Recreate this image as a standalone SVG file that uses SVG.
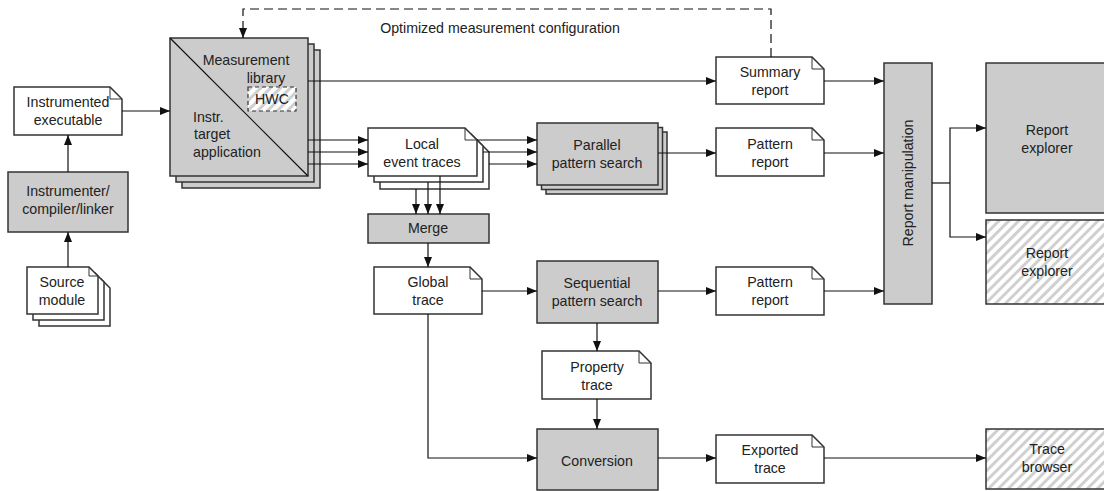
<svg xmlns="http://www.w3.org/2000/svg" width="1104" height="491" viewBox="0 0 1104 491">
<defs>
<pattern id="hatch" patternUnits="userSpaceOnUse" width="7" height="7" patternTransform="rotate(45)">
<rect width="7" height="7" fill="#ffffff"/>
<rect x="0" y="0" width="3" height="7" fill="#d0d0d0"/>
</pattern>
<marker id="arr" viewBox="0 0 10 8" refX="10" refY="4" markerWidth="10" markerHeight="8" markerUnits="userSpaceOnUse" orient="auto">
<path d="M0,0 L10,4 L0,8 Z" fill="#111"/>
</marker>
<style>
.box{fill:#cccccc;stroke:#333;stroke-width:1.5}
.doc{fill:#ffffff;stroke:#333;stroke-width:1.5}
.fold{fill:none;stroke:#333;stroke-width:1}
.hatch{fill:url(#hatch);stroke:#333;stroke-width:1.5}
.ln{fill:none;stroke:#111;stroke-width:1.2}
.arw{fill:none;stroke:#111;stroke-width:1.2;marker-end:url(#arr)}
text{font-family:"Liberation Sans",Arial,sans-serif;font-size:14.2px;fill:#222;text-anchor:middle}
</style>
</defs>
<rect width="1104" height="491" fill="#ffffff"/>

<g id="instrumented-executable">
<path class="doc" d="M14 87 H110 L122 99 V135 H14 Z"/>
<path class="fold" d="M110 87 V99 H122"/>
<text x="68" y="107">Instrumented</text>
<text x="68" y="125">executable</text>
</g>

<g id="instrumenter">
<rect class="box" x="8" y="172" width="120" height="60"/>
<text x="68" y="196">Instrumenter/</text>
<text x="68" y="214">compiler/linker</text>
</g>

<g id="source-module">
<path class="doc" d="M39 279 H101 L110 288 V326 H39 Z"/>
<path class="doc" d="M33 273 H95 L104 282 V320 H33 Z"/>
<path class="doc" d="M27 267 H89 L98 276 V314 H27 Z"/>
<path class="fold" d="M89 267 V276 H98"/>
<text x="62" y="287">Source</text>
<text x="62" y="305">module</text>
</g>

<g id="measurement">
<rect class="box" x="182" y="50" width="138" height="138"/>
<rect class="box" x="176" y="44" width="138" height="138"/>
<rect class="box" x="170" y="38" width="138" height="138"/>
<path class="ln" d="M170 38 L308 176"/>
<text x="246" y="65">Measurement</text>
<text x="266" y="83">library</text>
<rect x="248" y="87" width="48" height="24" fill="url(#hatch)" stroke="#333" stroke-width="1.2" stroke-dasharray="4 3"/>
<text x="272" y="104">HWC</text>
<text x="193" y="122" style="text-anchor:start">Instr.</text>
<text x="194" y="139" style="text-anchor:start">target</text>
<text x="193" y="157" style="text-anchor:start">application</text>
</g>

<g id="summary-report">
<path class="doc" d="M716 57 H812 L824 69 V104 H716 Z"/>
<path class="fold" d="M812 57 V69 H824"/>
<text x="770" y="77">Summary</text>
<text x="770" y="95">report</text>
</g>

<g id="local-event-traces">
<path class="doc" d="M380 140 H477 L489 152 V189 H380 Z"/>
<path class="doc" d="M374 134 H471 L483 146 V182 H374 Z"/>
<path class="doc" d="M368 128 H465 L477 140 V176 H368 Z"/>
<path class="fold" d="M465 128 V140 H477"/>
<text x="422" y="149">Local</text>
<text x="422" y="167">event traces</text>
</g>

<g id="parallel-pattern-search">
<rect class="box" x="546" y="132" width="121" height="62"/>
<rect class="box" x="541.5" y="127.5" width="121" height="62"/>
<rect class="box" x="537" y="123" width="121" height="62"/>
<text x="597" y="150">Parallel</text>
<text x="597" y="168">pattern search</text>
</g>

<g id="pattern-report-1">
<path class="doc" d="M716 128 H812 L824 140 V176 H716 Z"/>
<path class="fold" d="M812 128 V140 H824"/>
<text x="770" y="149">Pattern</text>
<text x="770" y="167">report</text>
</g>

<g id="merge">
<rect class="box" x="368" y="214" width="121" height="29"/>
<text x="428" y="233">Merge</text>
</g>

<g id="global-trace">
<path class="doc" d="M374 267 H470 L482 279 V314 H374 Z"/>
<path class="fold" d="M470 267 V279 H482"/>
<text x="428" y="287">Global</text>
<text x="428" y="305">trace</text>
</g>

<g id="sequential-pattern-search">
<rect class="box" x="537" y="261" width="121" height="62"/>
<text x="597" y="288">Sequential</text>
<text x="597" y="306">pattern search</text>
</g>

<g id="pattern-report-2">
<path class="doc" d="M716 267 H812 L824 279 V315 H716 Z"/>
<path class="fold" d="M812 267 V279 H824"/>
<text x="770" y="287">Pattern</text>
<text x="770" y="305">report</text>
</g>

<g id="property-trace">
<path class="doc" d="M542 351 H639 L651 363 V399 H542 Z"/>
<path class="fold" d="M639 351 V363 H651"/>
<text x="597" y="372">Property</text>
<text x="597" y="390">trace</text>
</g>

<g id="conversion">
<rect class="box" x="537" y="429" width="121" height="61"/>
<text x="597" y="466">Conversion</text>
</g>

<g id="exported-trace">
<path class="doc" d="M716 435 H812 L824 447 V483 H716 Z"/>
<path class="fold" d="M812 435 V447 H824"/>
<text x="770" y="455">Exported</text>
<text x="770" y="473">trace</text>
</g>

<g id="report-manipulation">
<rect class="box" x="884" y="63" width="48" height="241"/>
<text x="0" y="0" transform="translate(913 183) rotate(-90)">Report manipulation</text>
</g>

<g id="report-explorer-1">
<rect class="box" x="986" y="63" width="122" height="150"/>
<text x="1047" y="135">Report</text>
<text x="1047" y="153">explorer</text>
</g>

<g id="report-explorer-2">
<rect class="hatch" x="986" y="220" width="122" height="84"/>
<text x="1047" y="258">Report</text>
<text x="1047" y="276">explorer</text>
</g>

<g id="trace-browser">
<rect class="hatch" x="986" y="429" width="122" height="60"/>
<text x="1047" y="454">Trace</text>
<text x="1047" y="472">browser</text>
</g>

<g id="connectors">
<path class="arw" d="M771 57 V9 H243 V38" stroke-dasharray="9 5"/>
<text x="500" y="33">Optimized measurement configuration</text>
<path class="arw" d="M68 267 V232"/>
<path class="arw" d="M68 172 V135"/>
<path class="arw" d="M122 111 H170"/>
<path class="arw" d="M308 81 H716"/>
<path class="arw" d="M824 81 H884"/>
<path class="arw" d="M308 140 H368"/>
<path class="arw" d="M308 152 H368"/>
<path class="arw" d="M308 164 H368"/>
<path class="arw" d="M477 140 H537"/>
<path class="arw" d="M483 152 H537"/>
<path class="arw" d="M489 164 H537"/>
<path class="arw" d="M658 153 H716"/>
<path class="arw" d="M824 153 H884"/>
<path class="arw" d="M416 189 V214"/>
<path class="arw" d="M428 182 V214"/>
<path class="arw" d="M440 176 V214"/>
<path class="arw" d="M428 243 V267"/>
<path class="arw" d="M482 291 H537"/>
<path class="arw" d="M658 291 H716"/>
<path class="arw" d="M824 291 H884"/>
<path class="arw" d="M597 323 V351"/>
<path class="arw" d="M597 399 V429"/>
<path class="arw" d="M428 314 V458 H537"/>
<path class="arw" d="M658 458 H716"/>
<path class="arw" d="M824 458 H986"/>
<path class="ln" d="M932 183 H950"/>
<path class="arw" d="M950 183 V128 H986"/>
<path class="arw" d="M950 183 V237 H986"/>
</g>
</svg>
